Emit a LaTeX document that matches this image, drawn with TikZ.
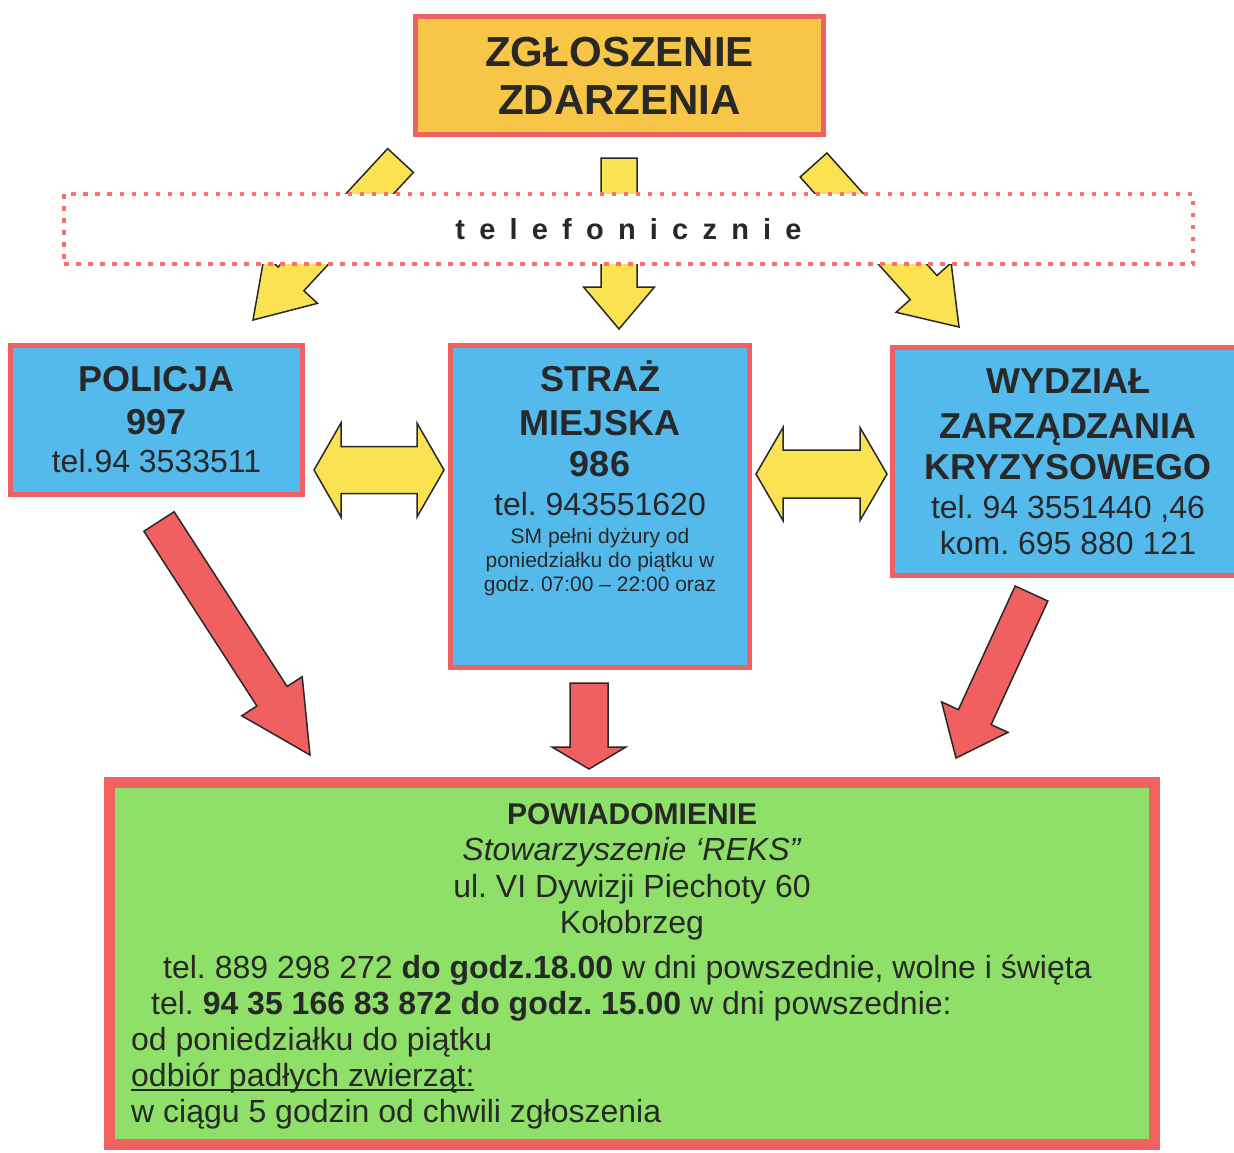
\documentclass[tikz,border=0pt]{standalone}
\usepackage{fontspec}
\setmainfont{Liberation Sans}
\usetikzlibrary{positioning,calc}

\definecolor{ink}{RGB}{40,40,40}
\definecolor{frame}{RGB}{240,98,98}
\definecolor{dotred}{RGB}{245,112,112}
\definecolor{topfill}{RGB}{247,198,72}
\definecolor{bluefill}{RGB}{84,186,236}
\definecolor{greenfill}{RGB}{142,224,104}
\definecolor{arrowyellow}{RGB}{250,226,82}
\definecolor{arrowred}{RGB}{240,96,96}

\lineskiplimit=-100pt
\frenchspacing
\newcommand{\boxhead}{\fontsize{36}{43}\selectfont\bfseries}
\newcommand{\lsp}{\kern0.49em}
\newcommand{\underl}[1]{\setbox0\hbox{#1}\rlap{\rule[-4pt]{\wd0}{1.4pt}}\box0}

% tail, tip, style, shaft half width, head half width, head length
\newcommand{\blockarrow}[6]{%
  \coordinate (neck) at ($(#2)!#6!(#1)$);
  \draw[#3] ($(#1)!#4!90:(#2)$) -- ($(neck)!#4!90:(#2)$) -- ($(neck)!#5!90:(#2)$) -- (#2)
    -- ($(neck)!#5!-90:(#2)$) -- ($(neck)!#4!-90:(#2)$) -- ($(#1)!#4!-90:(#2)$) -- cycle;
}
% end a, end b, style, shaft half width, head half width, head length
\newcommand{\twinarrow}[6]{%
  \coordinate (neck-a) at ($(#1)!#6!(#2)$);
  \coordinate (neck-b) at ($(#2)!#6!(#1)$);
  \draw[#3] (#1) -- ($(neck-a)!#5!90:(#2)$) -- ($(neck-a)!#4!90:(#2)$)
    -- ($(neck-b)!#4!-90:(#1)$) -- ($(neck-b)!#5!-90:(#1)$) -- (#2)
    -- ($(neck-b)!#5!90:(#1)$) -- ($(neck-b)!#4!90:(#1)$)
    -- ($(neck-a)!#4!-90:(#2)$) -- ($(neck-a)!#5!-90:(#2)$) -- cycle;
}

\tikzset{
  every node/.style={text=ink},
  boxframe/.style={draw=frame, line width=5pt, inner sep=0pt},
  topbox/.style={boxframe, fill=topfill},
  bluebox/.style={boxframe, fill=bluefill},
  greenbox/.style={boxframe, line width=11pt, fill=greenfill},
  dotbox/.style={draw=dotred, line width=4.5pt, dash pattern=on 4.5pt off 7.5pt, fill=white, inner sep=0pt},
  lines/.style={align=center, inner sep=0pt},
  yarrow/.style={draw=ink, line width=1.5pt, fill=arrowyellow},
  rarrow/.style={draw=ink, line width=1.5pt, fill=arrowred}
}

\begin{document}
\begin{tikzpicture}[x=1pt,y=-1pt]
\useasboundingbox (0,0) rectangle (1234,1152);

\node[topbox, minimum width=408, minimum height=118, lines, font=\fontsize{42}{48}\selectfont\bfseries] (zgl) at (619.5,75.5) {ZGŁOSZENIE\\ZDARZENIA};

% telephone arrows, partly behind the dotted box
\coordinate (yl-tail) at (400.5,160.5); \coordinate (yl-tip) at (253,320);
\coordinate (yc-tail) at (619,158);     \coordinate (yc-tip) at (619,329);
\coordinate (yr-tail) at (813.5,165);   \coordinate (yr-tip) at (959,327);
\blockarrow{yl-tail}{yl-tip}{yarrow}{17.5pt}{36pt}{56pt}
\blockarrow{yc-tail}{yc-tip}{yarrow}{18pt}{35.5pt}{42pt}
\blockarrow{yr-tail}{yr-tip}{yarrow}{18pt}{37pt}{53pt}

\node[dotbox, minimum width=1129, minimum height=70, font=\fontsize{29}{34}\selectfont\bfseries] (tel) at (628.5,229)
  {t\lsp e\lsp l\lsp e\lsp f\lsp o\lsp n\lsp i\lsp c\lsp z\lsp n\lsp i\lsp e};

\node[bluebox, minimum width=292, minimum height=149, lines, font=\fontsize{32}{38}\selectfont] (policja) at (156.5,420)
  {{\boxhead POLICJA}\\[5pt]{\boxhead 997}\\tel.94 3533511};

\node[bluebox, minimum width=299, minimum height=322] (straz) at (600,506.5) {};
\node[lines, font=\fontsize{21}{24}\selectfont, below=17pt of straz.north] (straz-txt)
  {{\boxhead STRAŻ}\\[20pt]{\boxhead MIEJSKA}\\[17pt]{\boxhead 986}\\[15pt]{\fontsize{32}{38}\selectfont tel. 943551620}\\[4pt]SM pełni dyżury od\\poniedziałku do piątku w\\godz. 07:00 – 22:00 oraz};

\node[bluebox, minimum width=351, minimum height=228, lines, font=\fontsize{32}{36}\selectfont] (wzk) at (1068,461.5)
  {{\boxhead WYDZIAŁ}\\[9pt]{\boxhead ZARZĄDZANIA}\\[5pt]{\boxhead KRYZYSOWEGO}\\[3pt]tel. 94 3551440 ,46\\kom. 695 880 121};

\coordinate (dl-a) at (314,470); \coordinate (dl-b) at (444,470);
\coordinate (dr-a) at (756,474); \coordinate (dr-b) at (887,474);
\twinarrow{dl-a}{dl-b}{yarrow}{23.5pt}{47pt}{27pt}
\twinarrow{dr-a}{dr-b}{yarrow}{24pt}{46.5pt}{27pt}

% notification arrows
\coordinate (rl-tail) at (159,521.5);  \coordinate (rl-tip) at (310,755);
\coordinate (rc-tail) at (589,683);    \coordinate (rc-tip) at (589,769);
\coordinate (rr-tail) at (1031.5,593.5); \coordinate (rr-tip) at (956,758);
\blockarrow{rl-tail}{rl-tip}{rarrow}{18pt}{36pt}{70pt}
\blockarrow{rc-tail}{rc-tip}{rarrow}{19pt}{37pt}{22pt}
\blockarrow{rr-tail}{rr-tip}{rarrow}{18pt}{36.5pt}{45pt}

\node[greenbox, minimum width=1045, minimum height=362] (powiad) at (632,963.5) {};
\node[lines, font=\fontsize{32}{36.5}\selectfont, below=26pt of powiad.north] (powiad-head)
  {{\fontsize{30}{36}\selectfont\bfseries POWIADOMIENIE}\\\textit{Stowarzyszenie ‘REKS”}\\ul. VI Dywizji Piechoty 60\\Kołobrzeg};
\node[lines, align=left, font=\fontsize{32}{36}\selectfont, anchor=north west] (powiad-body) at (131,955)
  {\hspace*{32pt}tel. 889 298 272 \textbf{do godz.18.00} w dni powszednie, wolne i święta\\
   \hspace*{20pt}tel. \textbf{94 35 166 83 872 do godz. 15.00} w dni powszednie:\\
   od poniedziałku do piątku\\
   \underl{odbiór padłych zwierząt:}\\
   w ciągu 5 godzin od chwili zgłoszenia};
\end{tikzpicture}
\end{document}
